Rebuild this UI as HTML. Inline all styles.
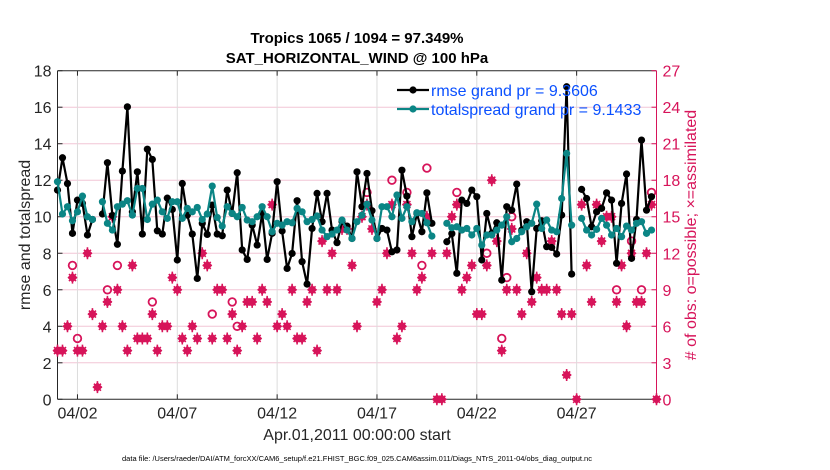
<!DOCTYPE html>
<html><head><meta charset="utf-8">
<style>
html,body{margin:0;padding:0;background:#fff;}
svg{display:block;font-family:"Liberation Sans",Arial,sans-serif;}
</style></head>
<body>
<svg id="chart" width="830" height="470" viewBox="0 0 830 470"></svg>
<script>
// ---- data ----
const startLabel = "Apr.01,2011 00:00:00 start";
const dayTicks = [1,6,11,16,21,26];
const dayTickLabels = ["04/02","04/07","04/12","04/17","04/22","04/27"];
const leftTicks = [0,2,4,6,8,10,12,14,16,18];
const rightTicks = [0,3,6,9,12,15,18,21,24,27];
const rmse = [11.46,13.23,11.82,9.09,10.91,10.73,9.0,9.85,null,10.15,12.96,10.07,8.49,12.5,16.02,10.27,12.46,9.05,13.7,13.14,9.23,9.05,11.02,10.4,7.63,11.82,10.09,9.05,6.62,9.64,9.03,10.64,9.05,8.96,11.46,10.18,12.41,8.18,7.66,9.54,8.45,10.18,7.66,9.09,11.92,9.22,7.17,7.99,10.88,7.54,6.31,9.36,11.28,9.73,11.28,9.27,8.58,9.73,9.49,8.81,12.46,10.55,12.37,10.33,8.81,9.36,9.27,8.08,8.18,12.55,11.13,8.91,10.18,9.18,11.31,9.64,null,null,8.63,9.07,6.9,10.91,10.73,11.46,11.1,7.63,10.18,9.09,9.67,6.53,10.55,10.36,11.79,9.27,9.73,5.89,9.36,9.78,8.36,8.32,7.96,10.09,17.12,6.86,null,11.5,11.0,9.45,10.27,10.46,11.31,10.91,7.45,10.73,12.34,7.72,9.85,14.2,10.36,11.1,null];
const spread = [11.92,10.15,10.55,9.78,10.27,11.13,10.0,9.85,null,10.82,9.64,9.27,10.55,10.69,10.88,10.09,11.55,11.55,9.85,10.69,10.91,10.27,9.91,10.82,10.82,9.91,10.46,10.27,10.51,9.85,10.15,11.68,9.96,9.49,10.55,10.18,10.0,10.51,9.82,9.73,10.0,10.55,10.0,9.18,9.64,9.54,9.73,9.67,10.46,10.27,9.73,9.85,10.04,9.27,8.91,9.05,9.27,9.82,9.27,8.81,9.73,10.09,10.69,9.82,8.81,10.55,10.55,10.0,11.19,9.91,10.55,9.73,10.22,10.18,9.67,8.94,null,null,9.64,9.4,9.45,9.27,9.36,9.0,9.36,8.45,9.0,9.0,9.27,9.54,10.0,8.63,8.81,9.18,9.45,9.64,10.69,9.36,9.82,9.27,9.18,11.0,13.47,9.54,null,9.91,9.27,9.0,9.31,9.91,9.54,9.0,9.36,8.91,9.49,9.27,9.64,9.73,9.09,9.27,null];
const nUsed = [4,4,6,10,4,4,12,7,1,6,8,15,9,6,4,11,5,5,5,7,4,6,6,10,9,5,4,6,5,12,11,5,9,9,5,7,4,6,8,8,5,9,8,16,6,7,6,9,5,5,8,9,4,13,9,12,9,14,14,11,6,15,16,14,8,9,12,16,5,6,16,12,9,10,15,12,0,0,12,15,16,9,10,11,7,7,11,18,13,4,9,14,9,7,12,8,10,9,9,13,9,7,2,7,0,16,11,8,16,13,15,15,8,11,6,12,8,8,12,16,0];
const nPoss = [4,4,6,11,5,4,12,7,1,6,9,15,11,6,4,11,5,5,5,8,4,6,6,10,9,5,4,6,5,12,11,7,9,9,5,8,6,6,8,8,5,9,8,16,6,7,6,9,5,5,8,9,4,13,9,12,9,14,14,11,6,15,17,14,8,9,12,18,5,6,17,12,9,11,19,12,0,0,12,15,17,9,10,11,7,7,12,18,13,5,10,15,9,7,12,8,10,9,9,13,9,7,2,7,0,16,11,8,16,13,15,15,9,11,6,13,8,9,12,17,0];

// ---- layout ----
const L=57.5, R=656.5, T=70.7, B=399.3;
const xDay = d => L + (R-L)*d/30;
const yL = v => B - (B-T)*v/18;
const yR = v => B - (B-T)*v/27;
const tOf = i => i*0.25;
const MAG="#d7145a", TEAL="#0b8585", BLUE="#0a50ff";
const svg=document.getElementById('chart');
const NS="http://www.w3.org/2000/svg";
function mk(tag,attrs,parent){const e=document.createElementNS(NS,tag);for(const k in attrs)e.setAttribute(k,attrs[k]);(parent||svg).appendChild(e);return e;}

// grid
const grid=mk('g',{});


rightTicks.forEach(v=>{ if(v>0&&v<27) mk('line',{x1:L,x2:R,y1:yR(v),y2:yR(v),stroke:'#f2c6d6','stroke-width':1},grid);});
dayTicks.forEach(d=>mk('line',{x1:xDay(d),x2:xDay(d),y1:T,y2:B,stroke:'#dcdcdc','stroke-width':1},grid));

// axes
const ax=mk('g',{});


mk('line',{x1:L,x2:R,y1:T,y2:T,stroke:'#262626','stroke-width':1},ax);
mk('line',{x1:L,x2:R,y1:B,y2:B,stroke:'#262626','stroke-width':1},ax);
mk('line',{x1:L,x2:L,y1:T,y2:B,stroke:'#262626','stroke-width':1},ax);
mk('line',{x1:R,x2:R,y1:T,y2:B,stroke:MAG,'stroke-width':1},ax);
leftTicks.forEach(v=>{
  mk('line',{x1:L,x2:L+5,y1:yL(v),y2:yL(v),stroke:'#262626'},ax);
  const t=mk('text',{x:L-6,y:yL(v)+6,'text-anchor':'end','font-size':16,fill:'#262626'},ax);t.textContent=v;
  
  
});
rightTicks.forEach(v=>{
  mk('line',{x1:R-5,x2:R,y1:yR(v),y2:yR(v),stroke:MAG},ax);
  const t=mk('text',{x:R+6,y:yR(v)+6,'font-size':16,fill:MAG},ax);t.textContent=v;
  
  
});
dayTicks.forEach((d,k)=>{
  mk('line',{x1:xDay(d),x2:xDay(d),y1:B,y2:B-5,stroke:'#262626'},ax);
  mk('line',{x1:xDay(d),x2:xDay(d),y1:T,y2:T+5,stroke:'#262626'},ax);
  const t=mk('text',{x:xDay(d),y:B+19,'text-anchor':'middle','font-size':16,fill:'#262626'},ax);t.textContent=dayTickLabels[k];
  
  
});

// obs counts
const obs=mk('g',{});


nPoss.forEach((n,i)=>{
  if(n!==nUsed[i]){
    const c=mk('circle',{cx:xDay(tOf(i)),cy:yR(n),r:3.8,fill:'none',stroke:MAG,'stroke-width':1.8},obs);
    
    
  }
});
nUsed.forEach((n,i)=>{
  const x=xDay(tOf(i)), y=yR(n);
  const g=mk('g',{},obs);
  
  
  mk('path',{d:`M${x} ${y-5}L${x+5} ${y}L${x} ${y+5}L${x-5} ${y}Z`,fill:MAG},g);
  mk('path',{d:`M${x-4.5} ${y}H${x+4.5}M${x} ${y-6}V${y+6}M${x-3.5} ${y-3.5}L${x+3.5} ${y+3.5}M${x-3.5} ${y+3.5}L${x+3.5} ${y-3.5}`,stroke:MAG,'stroke-width':1.6},g);
});

function series(arr,color,name){
  const g=mk('g',{});
  
  
  let d='',pen=false;
  arr.forEach((v,i)=>{ if(v===null){pen=false;return;} d+=(pen?'L':'M')+xDay(tOf(i)).toFixed(1)+' '+yL(v).toFixed(1); pen=true;});
  mk('path',{d:d,fill:'none',stroke:color,'stroke-width':2.2,'stroke-linejoin':'round'},g);
  arr.forEach((v,i)=>{ if(v===null)return;
    const c=mk('circle',{cx:xDay(tOf(i)),cy:yL(v),r:3.6,fill:color},g);
    
    
  });
}
series(rmse,'#000','rmse-line');
series(spread,TEAL,'totalspread-line');

// legend
const lg=mk('g',{});


[["#000","rmse grand pr = 9.3606",90],[TEAL,"totalspread grand pr = 9.1433",109]].forEach(r=>{
  mk('line',{x1:397,x2:429,y1:r[2],y2:r[2],stroke:r[0],'stroke-width':2.2},lg);
  mk('circle',{cx:413,cy:r[2],r:3.6,fill:r[0]},lg);
  const t=mk('text',{x:431,y:r[2]+6,'font-size':16,fill:BLUE},lg);t.textContent=r[1];
  
  
});

// titles
function txt(s,attrs,name){const t=mk('text',attrs);t.textContent=s;return t;}
txt("Tropics 1065 / 1094 = 97.349%",{x:357,y:43,'text-anchor':'middle','font-size':15,'font-weight':'bold',fill:'#000'},'chart-title');
txt("SAT_HORIZONTAL_WIND @ 100 hPa",{x:357,y:63,'text-anchor':'middle','font-size':15,'font-weight':'bold',fill:'#000'},'chart-subtitle');
txt(startLabel,{x:357,y:440,'text-anchor':'middle','font-size':16,fill:'#262626'},'x-axis-title');
txt("rmse and totalspread",{x:0,y:0,transform:'translate(30,235) rotate(-90)','text-anchor':'middle','font-size':16,fill:'#262626'},'y-axis-title');
txt("# of obs: o=possible; \u00d7=assimilated",{x:0,y:0,transform:'translate(696,235) rotate(-90)','text-anchor':'middle','font-size':16,fill:MAG},'y2-axis-title');
txt("data file: /Users/raeder/DAI/ATM_forcXX/CAM6_setup/f.e21.FHIST_BGC.f09_025.CAM6assim.011/Diags_NTrS_2011-04/obs_diag_output.nc",{x:357,y:461,'text-anchor':'middle','font-size':7.5,fill:'#000'},'data-file-note');
</script>
</body></html>
